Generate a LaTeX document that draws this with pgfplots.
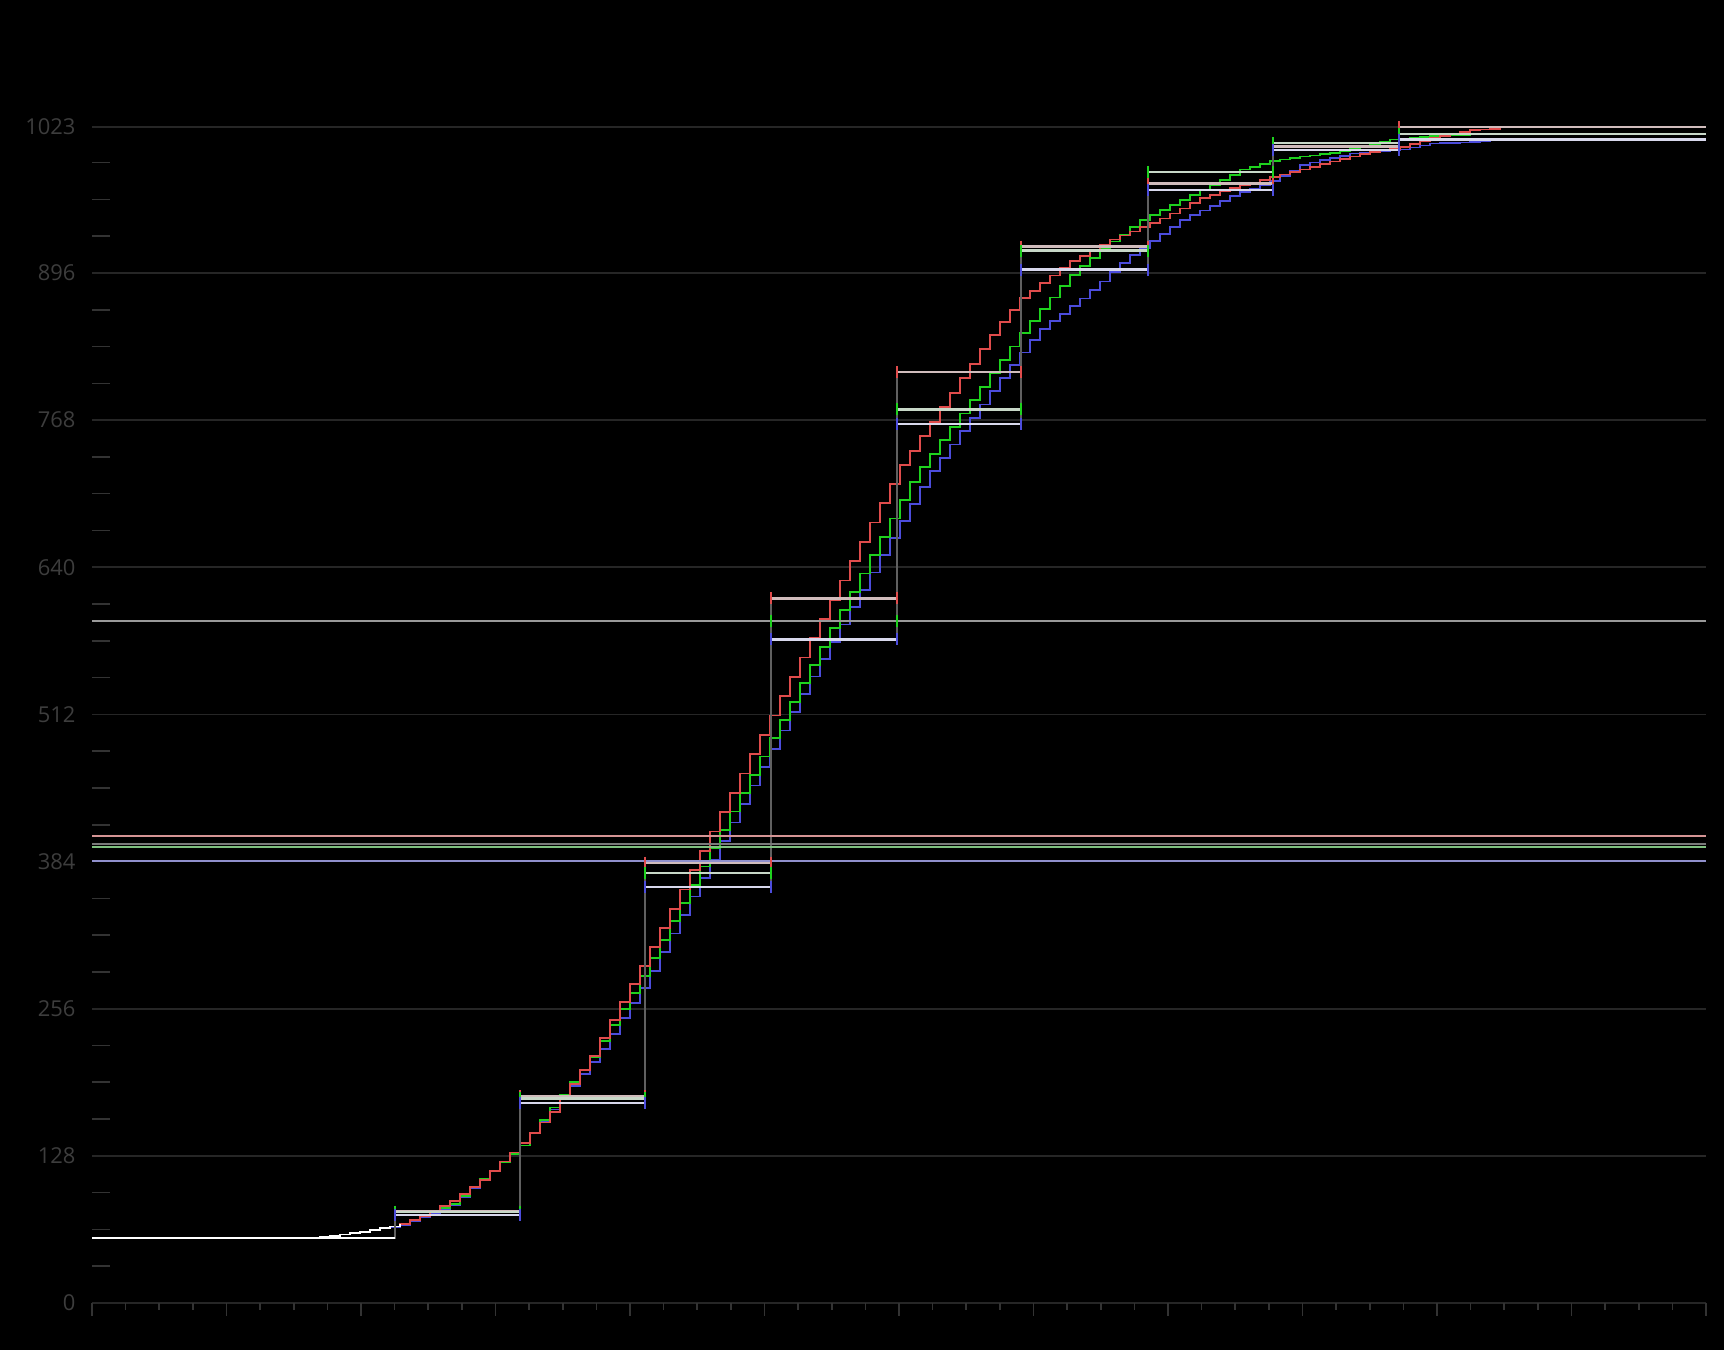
\documentclass[border=0pt]{standalone}
\usepackage{fontspec}
\setmainfont{Open Sans}
\usepackage{pgfplots}
\usepackage{pgfplotstable}
\pgfplotsset{compat=1.18}

\definecolor{cr}{HTML}{E04C4C}
\definecolor{cg}{HTML}{1ED21E}
\definecolor{cb}{HTML}{4C4CDC}
\definecolor{rbar}{HTML}{D0BCBC}
\definecolor{gbar}{HTML}{C8D8C8}
\definecolor{bbar}{HTML}{D8D8EC}
\definecolor{fpink}{HTML}{D49494}
\definecolor{fgray}{HTML}{7A7A7A}
\definecolor{fgreen}{HTML}{80C080}
\definecolor{flav}{HTML}{9090CC}
\definecolor{fgray2}{HTML}{9A9A9A}
\definecolor{conn}{HTML}{606060}
\definecolor{gridcol}{HTML}{262626}
\definecolor{tickcol}{HTML}{333333}
\definecolor{labcol}{HTML}{3D3D3D}

% staircase curves, x in pixels of the plot
\pgfplotstableread{
x r g b
300 56.5 56.5 56.5
310 57 57 57
320 57.5 57.5 57.5
330 58 58 58
340 59.5 59.5 59.5
350 61 61 61
360 62 62 62
370 63.5 63.5 63.5
380 65 65 65
390 66.5 66.5 66
400 68.7 68.7 67.7
410 72 72.1 71.1
420 75.9 75.6 74.6
430 79.8 79 78
440 84.3 82.5 81.4
450 89 86 85
460 95 93.3 92.4
470 101 100.6 99.9
480 107 107.9 107.3
490 115 115.1 114.7
500 123 122.4 122.1
510 131 129.7 129.6
520 139 137 137
530 148 148 147.4
540 157 159 157.8
550 166 170 168.2
560 178.3 181 178.6
570 190.5 192 188.9
580 202.8 203 199.3
590 215 214 209.7
600 230.6 228 221
610 246.3 241.9 234.3
620 261.9 255.9 247.7
630 277.5 269.8 261
640 293.2 284.2 274.3
650 309.4 300.1 289.1
660 326.2 316 305.2
670 343 332 321.3
680 359.8 347.9 337.4
690 376.6 363.8 353.5
700 393.4 379.8 369.6
710 410.2 395.7 385.7
720 427 411.6 401.8
730 443.8 427.6 417.9
740 460.6 443.5 434
750 477.4 459.4 450.2
760 494.2 475.4 466.1
770 511 491.3 482.1
780 527.8 507.2 498
790 544.6 523.1 513.9
800 561.4 539.1 529.8
810 578.2 555 545
820 595 570.9 560.1
830 611.8 586.9 575.2
840 628.6 602.8 590.2
850 645.4 618.7 605.3
860 662.2 634.7 620.4
870 679 650.6 635.4
880 695.8 666.5 650.5
890 712.6 682.4 665.3
900 728.8 698.3 680.1
910 741.4 714.2 694.9
920 754 727.2 709.7
930 766.6 738.8 723.5
940 779.2 750.5 735.1
950 791.8 762.1 746.7
960 804.4 773.8 758.4
970 817 785.4 770
980 829.6 797.1 781.6
990 842.2 808.7 793.2
1000 853.3 820.4 804.9
1010 863.6 832 816.2
1020 874 843.7 826.8
1030 880.6 854.2 837.5
1040 887.2 864.4 847.3
1050 893.8 874.6 854
1060 900.4 884.8 860.6
1070 906.4 894.3 867.2
1080 911 901.8 873.9
1090 915.7 909.3 880.9
1100 920.3 916.8 888.7
1110 925 923.4 896.6
1120 928.6 929.6 904.5
1130 932.2 935.8 911.8
1140 935.9 942 917.8
1150 939.5 946.3 923.9
1160 943.3 950.7 929.9
1170 947.7 955 936
1180 952.2 959.3 942
1190 956.6 963.7 946.2
1200 961 968 950.3
1210 964 972.5 954.5
1220 967 977 958.6
1230 970.1 981.5 962.8
1240 972.6 986 966.3
1250 974.8 988.4 969.5
1260 977.1 990.8 972.8
1270 979.3 993.3 976
1280 981.6 994.8 980.4
1290 983.9 996 985.2
1300 986.1 997.2 990
1310 988.4 998.3 992
1320 990.7 999.5 994
1330 992.9 1000.6 996
1340 995.1 1002.4 998
1350 997.3 1004.3 1000
1360 999.5 1006.2 1000.8
1370 1001.4 1008.1 1001.4
1380 1002.7 1010.1 1001.9
1390 1004 1012 1002.5
1400 1005.5 1012.8 1003.4
1410 1008.1 1013.6 1005.1
1420 1010.7 1014.4 1006.9
1430 1013.2 1015.2 1008.6
1440 1015.2 1016 1008.9
1450 1017 1016.2 1009.2
1460 1018.8 1016.3 1009.5
1470 1020.2 1016.5 1010.2
1480 1020.9 1016.7 1010.8
1490 1021.5 1016.8 1011.4
1500 1022 1017 1012
}\curves

\begin{document}
\begin{tikzpicture}
\fill[black] (0,0) rectangle (1724bp,1350bp);

\begin{axis}[
  at={(92bp,47bp)}, anchor=south west,
  scale only axis, width=1614bp, height=1176bp,
  xmin=92, xmax=1706, ymin=0, ymax=1023,
  axis line style={draw=none},
  xtick={92,226.5,361,495.5,630,764.5,899,1033.5,1168,1302.5,1437,1571.5,1706},
  minor x tick num=3,
  xticklabels={},
  ytick={0,128,256,384,512,640,768,896,1023},
  xtick pos=left, ytick pos=left,
  tick align=outside,
  major tick length=13bp, minor tick length=7bp,
  every x tick/.append style={tickcol, line width=1.6bp},
  every y tick/.append style={draw=none},
  ymajorgrids,
  major grid style={gridcol, line width=1.6bp},
  yticklabel style={font=\fontsize{22}{26}\selectfont, text=labcol},
  /pgf/number format/assume math mode=true,
  /pgf/number format/1000 sep={},
  unbounded coords=jump,
  clip=false,
]
% colour curves
\addplot[const plot, cb, line width=1.7bp] table[x=x, y=b] {\curves};
\addplot[const plot, cg, line width=1.7bp] table[x=x, y=g] {\curves};
\addplot[const plot, cr, line width=1.7bp] table[x=x, y=r] {\curves};
\addplot[const plot, white, line width=1.7bp, restrict x to domain=300:400] table[x=x, y=r] {\curves};

% thin connectors between segment levels
\addplot[const plot, conn, line width=1.1bp] coordinates {(92,56.5)(395,79.5)(520,180)(645,383)(771,613)(897,810)(1021,919)(1148,974)(1273,1006)(1399,1023)(1706,1023)};
\addplot[const plot, conn, line width=1.1bp] coordinates {(92,56.5)(395,79)(520,178)(645,374.3)(771,593.5)(897,777.4)(1021,915.5)(1148,984)(1273,1009)(1399,1017)(1706,1017)};
\addplot[const plot, conn, line width=1.1bp] coordinates {(92,56.5)(395,76.5)(520,174)(645,362)(771,577.3)(897,764.4)(1021,899)(1148,968)(1273,1003)(1399,1012)(1706,1012)};

% segment bars
\addplot[white, line width=2.4bp] coordinates {(92,56.5)(395,56.5)};
\addplot[rbar, line width=2.4bp] coordinates {(395,79.5)(520,79.5)(520,nan)(520,180)(645,180)(645,nan)(645,383)(771,383)(771,nan)(771,613)(897,613)(897,nan)(897,810)(1021,810)(1021,nan)(1021,919)(1148,919)(1148,nan)(1148,974)(1273,974)(1273,nan)(1273,1006)(1399,1006)(1399,nan)(1399,1023)(1706,1023)};
\addplot[gbar, line width=2.4bp] coordinates {(395,79)(520,79)(520,nan)(520,178)(645,178)(645,nan)(645,374.3)(771,374.3)(771,nan)(771,593.5)(897,593.5)(897,nan)(897,777.4)(1021,777.4)(1021,nan)(1021,915.5)(1148,915.5)(1148,nan)(1148,984)(1273,984)(1273,nan)(1273,1009)(1399,1009)(1399,nan)(1399,1017)(1706,1017)};
\addplot[bbar, line width=2.4bp] coordinates {(395,76.5)(520,76.5)(520,nan)(520,174)(645,174)(645,nan)(645,362)(771,362)(771,nan)(771,577.3)(897,577.3)(897,nan)(897,764.4)(1021,764.4)(1021,nan)(1021,899)(1148,899)(1148,nan)(1148,968)(1273,968)(1273,nan)(1273,1003)(1399,1003)(1399,nan)(1399,1012)(1706,1012)};

% coloured end ticks of the bars
\addplot[only marks, mark=|, mark size=6bp, cr, mark options={line width=1.6bp}] coordinates {(395,79.5)(520,79.5)(520,180)(645,180)(645,383)(771,383)(771,613)(897,613)(897,810)(1021,810)(1021,919)(1148,919)(1148,974)(1273,974)(1273,1006)(1399,1006)(1399,1023)};
\addplot[only marks, mark=|, mark size=6bp, cg, mark options={line width=1.6bp}] coordinates {(395,79)(520,79)(520,178)(645,178)(645,374.3)(771,374.3)(771,593.5)(897,593.5)(897,777.4)(1021,777.4)(1021,915.5)(1148,915.5)(1148,984)(1273,984)(1273,1009)(1399,1009)(1399,1017)};
\addplot[only marks, mark=|, mark size=6bp, cb, mark options={line width=1.6bp}] coordinates {(395,76.5)(520,76.5)(520,174)(645,174)(645,362)(771,362)(771,577.3)(897,577.3)(897,764.4)(1021,764.4)(1021,899)(1148,899)(1148,968)(1273,968)(1273,1003)(1399,1003)(1399,1012)};

% full-width reference lines
\addplot[fpink, line width=2bp] coordinates {(92,406.5)(1706,406.5)};
\addplot[fgray, line width=2bp] coordinates {(92,399.5)(1706,399.5)};
\addplot[fgreen, line width=2bp] coordinates {(92,396.4)(1706,396.4)};
\addplot[flav, line width=2bp] coordinates {(92,384.2)(1706,384.2)};
\addplot[fgray2, line width=2bp] coordinates {(92,593.5)(1706,593.5)};
\end{axis}

% inward minor ticks on the left
\begin{axis}[
  at={(92bp,47bp)}, anchor=south west,
  scale only axis, width=1614bp, height=1176bp,
  xmin=92, xmax=1706, ymin=0, ymax=1023,
  axis line style={draw=none},
  xtick=\empty,
  ytick={32,64,96,160,192,224,288,320,352,416,448,480,544,576,608,672,704,736,800,832,864,928,960,992},
  yticklabels={},
  ytick pos=left,
  tick align=inside,
  major tick length=18bp,
  every y tick/.append style={tickcol, line width=1.6bp},
]
\end{axis}

\pgfresetboundingbox
\path[use as bounding box] (0,0) rectangle (1724bp,1350bp);
\end{tikzpicture}
\end{document}
